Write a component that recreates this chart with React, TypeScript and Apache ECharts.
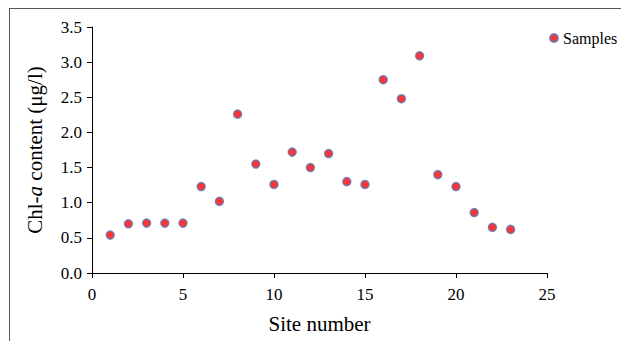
import React, { useEffect, useRef } from "react";
import * as echarts from "echarts";

const siteNumbers = [1, 2, 3, 4, 5, 6, 7, 8, 9, 10, 11, 12, 13, 14, 15, 16, 17, 18, 19, 20, 21, 22, 23];
const chlValues = [0.54, 0.70, 0.71, 0.71, 0.71, 1.23, 1.02, 2.26, 1.55, 1.26, 1.72, 1.50, 1.70, 1.30, 1.26, 2.75, 2.48, 3.09, 1.40, 1.23, 0.86, 0.65, 0.62];
const seriesName = "Samples";
const xTitle = "Site number";
const yTitle = "Chl-{i|a} content (μg/l)";

const FONT = "Liberation Serif";

export default function App() {
  const ref = useRef<HTMLDivElement>(null);
  useEffect(() => {
    if (!ref.current) return;
    const chart = echarts.init(ref.current, undefined, { renderer: "svg" });
    const data = siteNumbers.map((x, i) => [x, chlValues[i]]);
    chart.setOption({
      animation: false,
      backgroundColor: "#ffffff",
      textStyle: { fontFamily: FONT, color: "#000" },
      grid: { left: 92, right: 74, top: 27, bottom: 68 },
      legend: {
        left: 549,
        top: 30,
        padding: 0,
        itemWidth: 8,
        itemHeight: 8,
        itemGap: 5,
        icon: "circle",
        data: [seriesName],
        textStyle: { fontFamily: FONT, fontSize: 16, color: "#000" },
      },
      xAxis: {
        type: "value",
        min: 0,
        max: 25,
        interval: 5,
        name: xTitle,
        nameLocation: "middle",
        nameGap: 40,
        nameTextStyle: { fontFamily: FONT, fontSize: 21, color: "#000" },
        axisLine: { show: true, onZero: false, lineStyle: { color: "#000", width: 1 } },
        axisTick: { show: true, inside: false, length: 5, lineStyle: { color: "#000" } },
        axisLabel: { fontFamily: FONT, fontSize: 17, color: "#000", margin: 13 },
        splitLine: { show: false },
      },
      yAxis: {
        type: "value",
        min: 0,
        max: 3.5,
        interval: 0.5,
        name: yTitle,
        nameLocation: "middle",
        nameGap: 47,
        nameTextStyle: {
          fontFamily: FONT,
          fontSize: 21,
          color: "#000",
          rich: { i: { fontFamily: FONT, fontSize: 21, fontStyle: "italic", color: "#000" } },
        },
        axisLine: { show: true, lineStyle: { color: "#000", width: 1 } },
        axisTick: { show: true, inside: false, length: 5, lineStyle: { color: "#000" } },
        axisLabel: {
          fontFamily: FONT,
          fontSize: 17,
          color: "#000",
          margin: 10,
          formatter: (v: number) => v.toFixed(1),
        },
        splitLine: { show: false },
      },
      series: [
        {
          name: seriesName,
          type: "scatter",
          data,
          symbol: "circle",
          symbolSize: 8,
          itemStyle: { color: "#ff0000", borderColor: "#5a74ad", borderWidth: 1.5 },
        },
      ],
      graphic: [
        { type: "line", shape: { x1: 9, y1: 8.5, x2: 621, y2: 8.5 }, style: { stroke: "#555", lineWidth: 1 } },
        { type: "line", shape: { x1: 9.5, y1: 8, x2: 9.5, y2: 341 }, style: { stroke: "#555", lineWidth: 1 } },
      ],
    });
    return () => chart.dispose();
  }, []);
  return (
    <div
      ref={ref}
      style={{ position: "fixed", left: 0, top: 0, width: 621, height: 341, background: "#fff" }}
    />
  );
}
